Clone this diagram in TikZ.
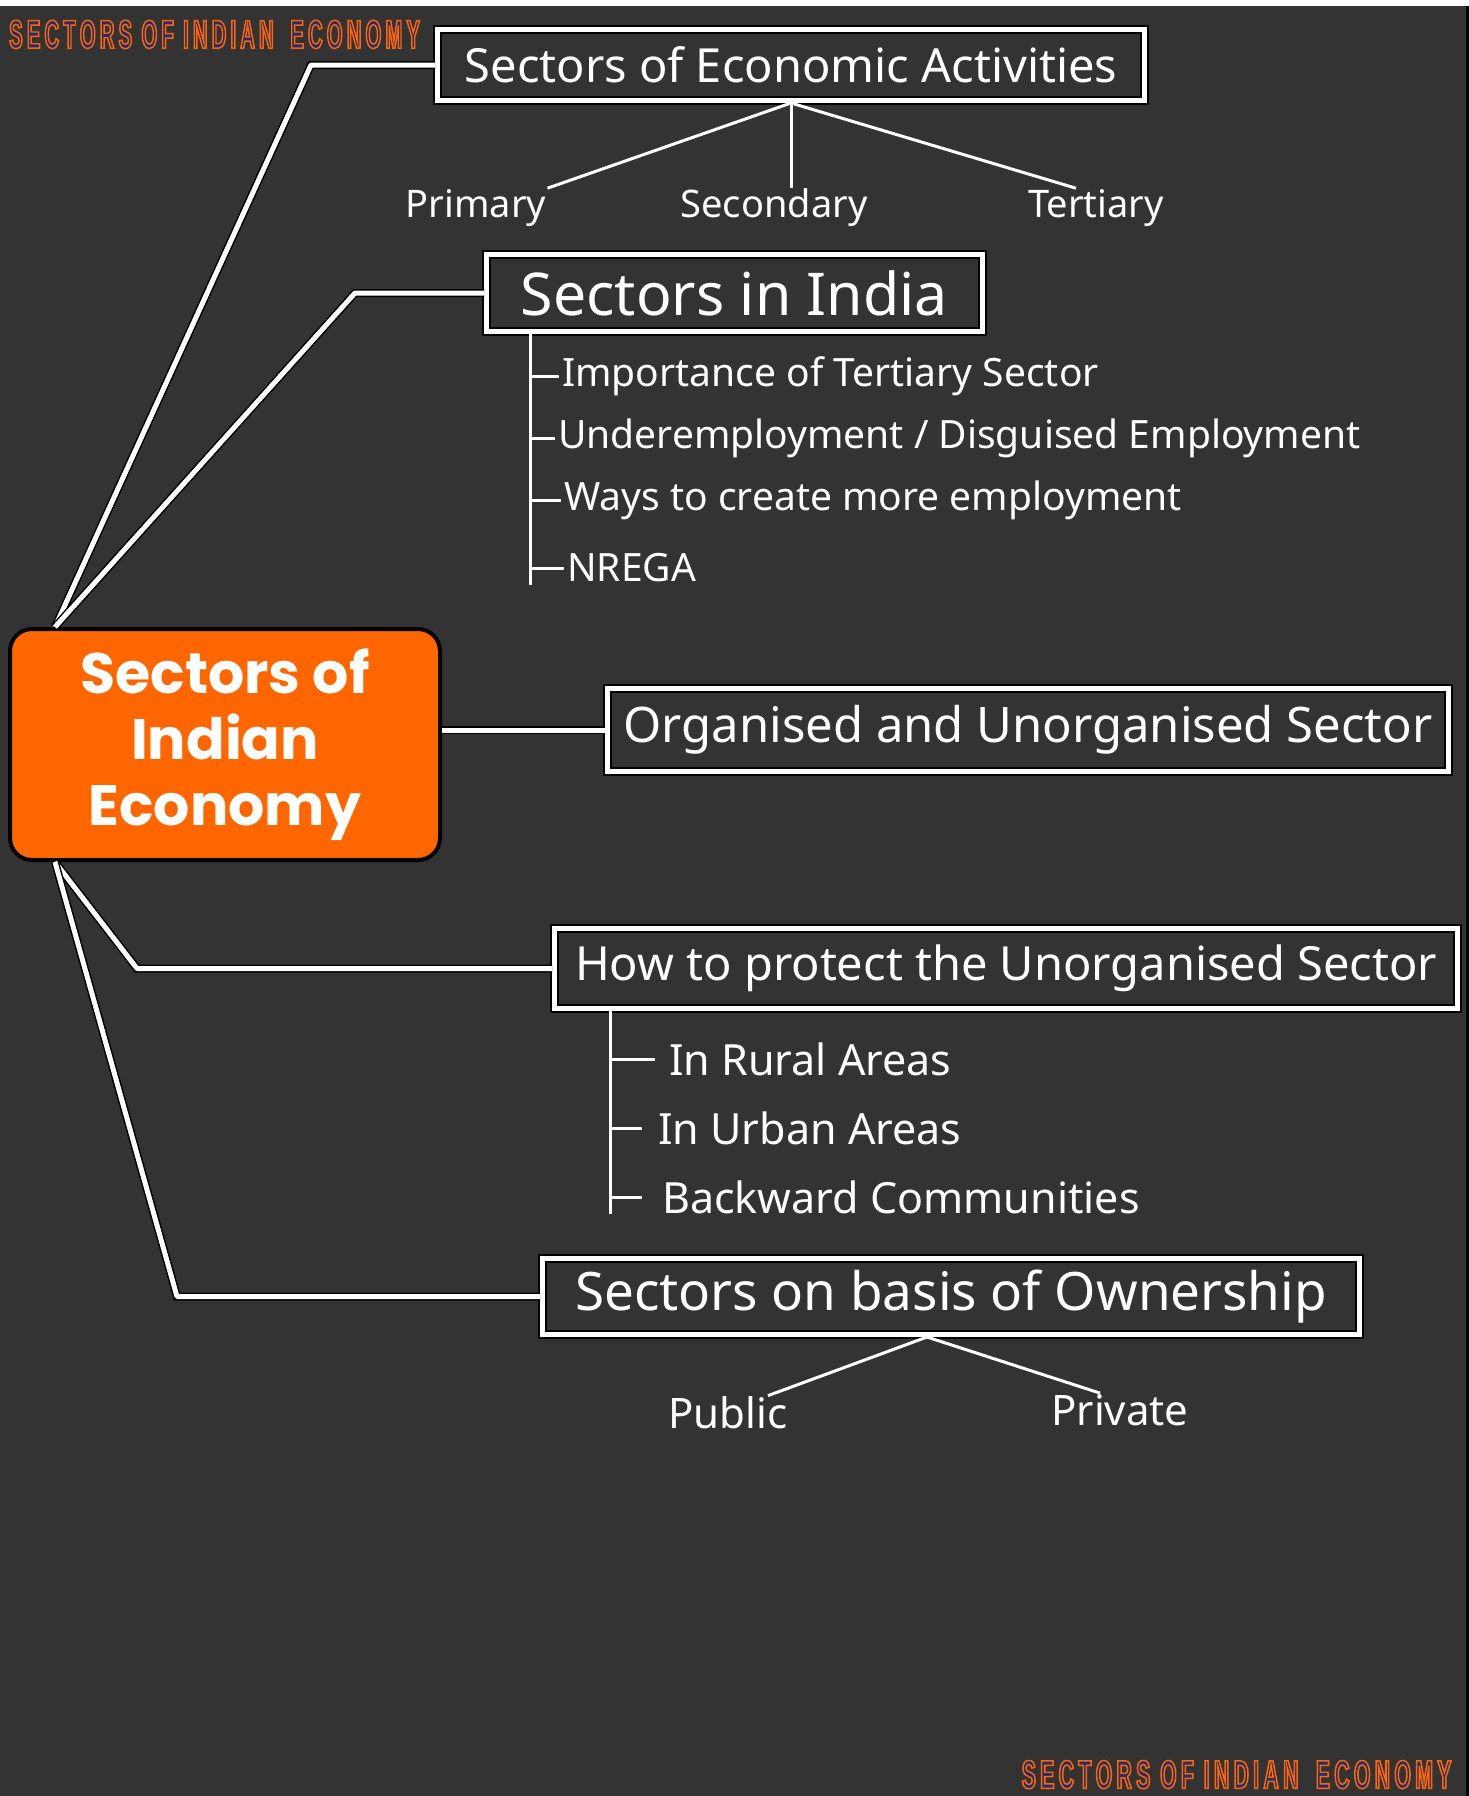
\documentclass[tikz,border=0pt]{standalone}
\usepackage{fontspec}
\usepackage{graphicx}
\setmainfont{Noto Sans}
\newfontfamily\hubfont{Poppins}
\newfontfamily\bannerfont{Liberation Sans}[FakeStretch=0.5]

\definecolor{board}{RGB}{51,51,51}
\definecolor{hubfill}{RGB}{255,102,0}
\definecolor{bannerink}{RGB}{32,44,120}

% letters of the banner, spread out one by one
\def\spreadout#1{\ifx#1\relax\else#1\kern4pt\expandafter\spreadout\fi}
\newcommand{\bannertext}[2]{\resizebox{#1}{#2}{\color{bannerink}%
  \special{pdf:literal direct 1 0.4 0 RG 2 Tr 1.4 w}%
  \spreadout SECTORS\relax\hspace{5pt}\spreadout OF\relax\hspace{5pt}%
  \spreadout INDIAN\relax\hspace{12pt}\spreadout ECONOMY\relax
  \special{pdf:literal direct 0 Tr}}}

\begin{document}
\begin{tikzpicture}[
    x=1pt, y=-1pt,
    line cap=butt,
    hub/.style={
      draw=black,
      line width=4pt,
      fill=hubfill,
      rounded corners=22pt,
      minimum width=430,
      minimum height=231,
      align=center,
      text=white,
      font=\hubfont\bfseries\fontsize{57}{66}\selectfont
    },
    topic/.style={
      draw=white,
      line width=5pt,
      preaction={draw=black, line width=9pt},
      text=white,
      inner sep=0pt,
      font=\fontsize{47}{54}\selectfont
    },
    leaf/.style={text=white, inner sep=1pt, font=\fontsize{38}{44}\selectfont},
    item/.style={leaf, anchor=west, inner sep=3pt, font=\fontsize{39}{44}\selectfont},
    subitem/.style={item, inner xsep=16pt, font=\fontsize{43}{48}\selectfont},
    banner/.style={inner sep=0pt, font=\bannerfont\bfseries\fontsize{39}{39}\selectfont},
    link/.style={white, line width=5pt, line join=round, preaction={draw=black, line width=8pt}},
    twig/.style={white, line width=3pt}
  ]
  \useasboundingbox (0,0) rectangle (1469,1796);
  \fill[board] (0,0) rectangle (1469,1796);
  \fill[white] (0,0) rectangle (1469,6);
  \fill[black] (1466,6) rectangle (1469,1796);

  \node[banner, anchor=north west] (bannertop) at (9,20) {\bannertext{415pt}{28pt}};
  \node[banner, anchor=south east] (bannerbottom) at (1456,1789) {\bannertext{434pt}{28pt}};

  \node[hub] (hub) at (225,744.5) {Sectors of\\Indian\\Economy};

  \node[topic, minimum width=707, minimum height=71] (econ) at (791,65) {Sectors of Economic Activities};
  \node[leaf] (primary) at (476,208) {Primary};
  \node[leaf] (secondary) at (774,208) {Secondary};
  \node[leaf] (tertiary) at (1096,208) {Tertiary};

  \node[topic, minimum width=496, minimum height=77, font=\fontsize{59}{64}\selectfont] (india) at (734.5,293) {Sectors in India};
  \node[item] (tertimp) at (559,376) {Importance of Tertiary Sector};
  \node[item] (underemp) at (555,438) {Underemployment / Disguised Employment};
  \node[item] (moreemp) at (561,500) {Ways to create more employment};
  \node[item] (nrega) at (564,568) {NREGA};

  \node[topic, minimum width=841, minimum height=83, font=\fontsize{49}{56}\selectfont] (org) at (1028,730) {Organised and Unorganised Sector};

  \node[topic, minimum width=903, minimum height=80, font=\fontsize{47}{54}\selectfont] (protect) at (1006,968.5) {How to protect the Unorganised Sector};
  \node[subitem, inner xsep=14pt] (rural) at (655,1059) {In Rural Areas};
  \node[subitem] (urban) at (642,1128) {In Urban Areas};
  \node[subitem, inner xsep=20pt] (backward) at (642,1197) {Backward Communities};

  \node[topic, minimum width=817, minimum height=76, font=\fontsize{53}{60}\selectfont] (owner) at (951,1296.5) {Sectors on basis of Ownership};
  \node[leaf, font=\fontsize{42}{48}\selectfont] (public) at (728,1413) {Public};
  \node[leaf, font=\fontsize{42}{48}\selectfont] (private) at (1120,1410) {Private};

  \coordinate (hubtop) at ([xshift=-170pt]hub.north);
  \coordinate (hubbottom) at ([xshift=-170pt]hub.south);
  \coordinate (indiaspine) at ([xshift=46pt]india.south west);
  \coordinate (protectspine) at ([xshift=58pt]protect.south west);

  \draw[link] (hubtop) -- ([xshift=-124pt]econ.west) -- (econ.west);
  \draw[link] (hubtop) -- ([xshift=-129pt]india.west) -- (india.west);
  \draw[link] (hub.east |- org.west) -- (org.west);
  \draw[link] (hubbottom) -- ([xshift=-415pt]protect.west) -- (protect.west);
  \draw[link] (hubbottom) -- ([xshift=-363pt]owner.west) -- (owner.west);

  \draw[twig] (econ.south) -- (primary.north east);
  \draw[twig] (econ.south) -- (econ.south |- secondary.north);
  \draw[twig] (econ.south) -- ([xshift=-20pt]tertiary.north);

  \draw[twig] (indiaspine) -- (indiaspine |- nrega.west) -- ++(0,17);
  \foreach \n in {tertimp,underemp,moreemp,nrega}
    \draw[twig] (indiaspine |- \n.west) -- (\n.west);

  \draw[twig] (protectspine) -- (protectspine |- backward.west) -- ++(0,17);
  \foreach \n in {rural,urban,backward}
    \draw[twig] (protectspine |- \n.west) -- (\n.west);

  \draw[twig] ([xshift=-24pt]owner.south) -- ([xshift=40pt]public.north);
  \draw[twig] ([xshift=-24pt]owner.south) -- ([xshift=-20pt]private.north);
\end{tikzpicture}
\end{document}
